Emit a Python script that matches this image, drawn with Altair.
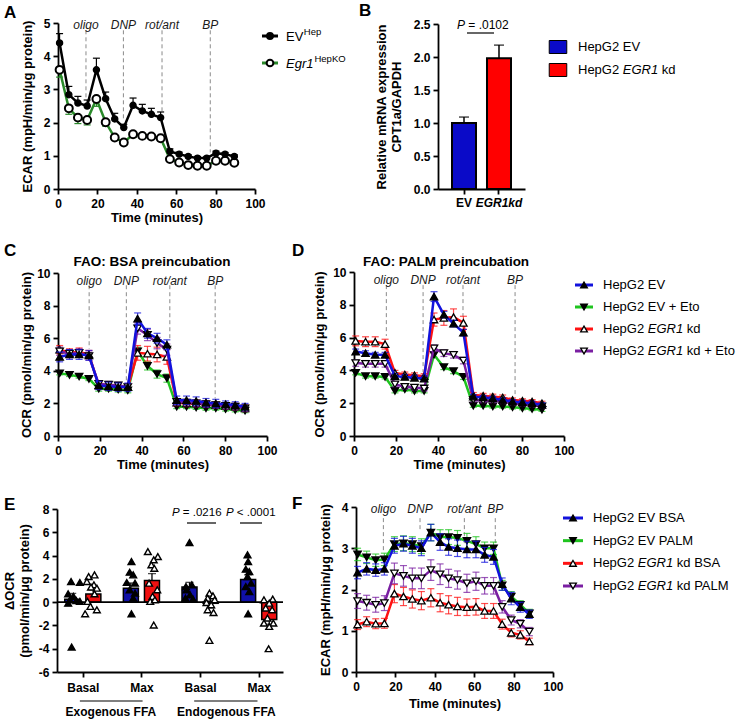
import altair as alt
import pandas as pd

FONT = "Liberation Sans"
W, H = 737, 719
BLACK = "#000000"

# ---------------- data ----------------
TIME = [0.8, 5.5, 10.1, 14.8, 19.5, 24.2, 28.8, 33.4, 38.1, 42.8,
        47.4, 52.1, 56.8, 61.5, 66.1, 70.8, 75.5, 80.2, 84.8, 89.5]
TIME_F = [0.8, 5.4, 10.0, 14.4, 19.5, 24.1, 28.6, 33.2, 38.0, 42.7,
          47.0, 51.5, 56.3, 60.9, 65.3, 69.8, 74.2, 78.8, 83.4, 88.0]
INJ_LABELS = ["oligo", "DNP", "rot/ant", "BP"]
TIME_TICKS = [0, 20, 40, 60, 80, 100]

# Panel A (ECAR, mice)
A_EV = [4.40, 2.84, 2.59, 2.50, 3.59, 2.72, 2.11, 1.85, 2.52, 2.35,
        2.25, 2.15, 1.13, 1.05, 0.98, 0.93, 0.93, 1.08, 1.05, 0.98]
A_EV_ERR = [0.28, 0.25, 0.20, 0.18, 0.35, 0.20, 0.17, 0.10, 0.22, 0.20,
            0.18, 0.17, 0.08, 0.06, 0.05, 0.05, 0.05, 0.06, 0.05, 0.05]
A_KO = [3.59, 2.43, 2.15, 2.08, 2.71, 2.01, 1.55, 1.40, 1.65, 1.60,
        1.58, 1.53, 0.90, 0.80, 0.72, 0.70, 0.70, 0.85, 0.85, 0.79]
A_KO_ERR = [0.22, 0.18, 0.18, 0.15, 0.22, 0.12, 0.08, 0.06, 0.10, 0.08,
            0.08, 0.08, 0.06, 0.05, 0.04, 0.04, 0.04, 0.05, 0.05, 0.05]
A_INJ_T = [14.2, 33.2, 52.8, 77.3]
A_INJ_END = [2.75, 2.05, 2.35, 1.10]

# Panel B (CPT1a expression)
B_GROUPS = ["EV", "EGR1kd"]
B_MEAN = [1.00, 1.98]
B_ERR = [0.09, 0.20]

# Panel C (OCR, BSA)
C_EV = [4.85, 5.00, 5.00, 4.95, 3.10, 3.05, 3.00, 3.00, 7.20, 6.30,
        6.00, 5.60, 2.20, 2.20, 2.15, 2.05, 2.00, 1.95, 1.90, 1.80]
C_EV_ERR = [0.30, 0.30, 0.30, 0.30, 0.25, 0.25, 0.25, 0.25, 0.35, 0.30,
            0.30, 0.30, 0.25, 0.25, 0.25, 0.25, 0.25, 0.20, 0.20, 0.20]
C_ETO = [3.85, 3.75, 3.65, 3.50, 2.90, 2.90, 2.85, 2.80, 5.20, 4.30,
         3.80, 3.55, 1.80, 1.80, 1.75, 1.70, 1.70, 1.65, 1.60, 1.55]
C_ETO_ERR = [0.10, 0.10, 0.10, 0.10, 0.15, 0.15, 0.15, 0.15, 0.25, 0.25,
             0.25, 0.25, 0.12, 0.12, 0.12, 0.12, 0.12, 0.12, 0.12, 0.12]
C_KD = [5.30, 5.10, 5.15, 5.00, 3.10, 3.05, 3.00, 3.00, 5.10, 5.05,
        5.00, 4.85, 2.05, 2.00, 2.00, 1.95, 1.90, 1.85, 1.80, 1.70]
C_KD_ERR = [0.25, 0.25, 0.25, 0.25, 0.20, 0.20, 0.20, 0.20, 0.45, 0.45,
            0.45, 0.45, 0.20, 0.20, 0.20, 0.20, 0.20, 0.20, 0.20, 0.20]
C_KDETO = [5.20, 5.05, 5.10, 4.90, 3.20, 3.15, 3.10, 3.00, 6.60, 6.20,
           5.70, 5.30, 2.10, 2.05, 2.00, 1.95, 1.90, 1.85, 1.80, 1.70]
C_KDETO_ERR = [0.25, 0.25, 0.25, 0.25, 0.20, 0.20, 0.20, 0.20, 0.35, 0.35,
               0.35, 0.35, 0.20, 0.20, 0.20, 0.20, 0.20, 0.20, 0.20, 0.20]
C_INJ_T = [14.9, 32.7, 53.5, 75.2]
C_INJ_END = [5.35, 3.40, 5.90, 2.30]

# Panel D (OCR, PALM)
D_EV = [5.15, 5.05, 4.95, 4.95, 3.65, 3.60, 3.55, 3.50, 8.50, 7.40,
        6.85, 6.30, 2.40, 2.35, 2.30, 2.20, 2.10, 2.05, 2.00, 1.90]
D_EV_ERR = [0.15, 0.15, 0.15, 0.15, 0.15, 0.15, 0.15, 0.15, 0.30, 0.20,
            0.20, 0.20, 0.12, 0.12, 0.12, 0.12, 0.12, 0.12, 0.12, 0.12]
D_ETO = [3.85, 3.65, 3.65, 3.60, 2.75, 2.85, 2.75, 2.75, 4.95, 4.20,
         3.95, 3.60, 1.85, 1.85, 1.80, 1.80, 1.75, 1.70, 1.65, 1.60]
D_ETO_ERR = [0.12, 0.12, 0.12, 0.12, 0.12, 0.12, 0.12, 0.12, 0.15, 0.15,
             0.15, 0.15, 0.10, 0.10, 0.10, 0.10, 0.10, 0.10, 0.10, 0.10]
D_KD = [5.80, 5.75, 5.75, 5.60, 3.85, 3.75, 3.70, 3.65, 7.10, 7.20,
        7.25, 6.90, 2.50, 2.45, 2.40, 2.35, 2.20, 2.15, 2.10, 2.00]
D_KD_ERR = [0.30, 0.30, 0.30, 0.30, 0.15, 0.15, 0.15, 0.15, 0.40, 0.45,
            0.50, 0.40, 0.15, 0.15, 0.15, 0.15, 0.12, 0.12, 0.12, 0.12]
D_KDETO = [4.45, 4.40, 4.40, 4.40, 3.15, 3.00, 2.95, 2.90, 5.35, 5.05,
           4.95, 4.60, 2.20, 2.15, 2.15, 2.10, 2.00, 1.95, 1.90, 1.80]
D_KDETO_ERR = [0.20, 0.20, 0.20, 0.20, 0.15, 0.15, 0.15, 0.15, 0.20, 0.20,
               0.20, 0.20, 0.12, 0.12, 0.12, 0.12, 0.12, 0.12, 0.12, 0.12]
D_INJ_T = [15.4, 32.9, 51.9, 76.7]
D_INJ_END = [6.10, 3.90, 7.30, 2.40]

# Panel E (delta OCR)
E_CATS = ["Basal", "Max", "Basal", "Max"]
E_GROUPS = ["Exogenous FFA", "Endogenous FFA"]
E_EV_MEAN = [0.25, 1.20, 1.30, 1.95]
E_EV_ERR = [0.50, 0.45, 0.40, 0.40]
E_KD_MEAN = [0.70, 1.85, -0.10, -1.50]
E_KD_ERR = [0.35, 0.60, 0.40, 0.40]
E_EV_Y = [
    [1.77, 1.69, 0.71, 0.49, 0.20, 0.14, -0.09, 0.06, -3.86],
    [3.49, 2.57, 2.34, 1.69, 1.63, 1.06, 0.77, 0.34, -1.00],
    [5.11, 1.34, 1.49, 1.06, 0.63, 0.34, 0.26],
    [4.06, 3.49, 2.83, 2.63, 2.20, 1.63, 1.34, 0.91, -1.00],
]
E_EV_DX = [
    [-0.02, 0.13, -0.07, 0.02, -0.04, 0.07, -0.07, 0.13, -0.01],
    [0.01, -0.02, 0.04, -0.07, 0.07, -0.02, 0.07, 0.04, 0.01],
    [0.00, -0.06, 0.04, -0.05, 0.01, -0.07, 0.06],
    [-0.01, 0.00, -0.04, 0.02, -0.01, 0.05, -0.04, 0.02, 0.00],
]
E_KD_Y = [
    [2.20, 2.34, 1.77, 1.49, 1.29, 1.20, 0.71, 0.06, -0.37, -1.00, -0.66],
    [4.34, 3.91, 3.63, 3.20, 2.91, 1.63, 1.06, 0.49, 0.06, 0.20, -1.97],
    [0.77, 0.54, 0.34, 0.20, -0.03, -0.23, -0.66, -0.89, -3.29],
    [0.20, 0.26, -0.09, -0.51, -0.66, -1.37, -1.80, -2.09, -1.80, -4.00],
]
E_KD_DX = [
    [-0.08, 0.02, -0.11, 0.01, -0.04, 0.06, 0.02, -0.10, -0.05, -0.14, 0.06],
    [-0.07, 0.10, 0.03, -0.01, 0.04, -0.05, 0.09, 0.01, -0.03, 0.05, 0.03],
    [-0.02, 0.04, -0.05, 0.07, -0.07, 0.01, -0.05, 0.05, -0.02],
    [-0.09, 0.06, 0.00, -0.06, 0.05, -0.03, 0.07, 0.00, -0.09, -0.01],
]

# Panel F (ECAR, HepG2)
F_EV_BSA = [2.41, 2.50, 2.47, 2.50, 3.06, 3.11, 3.06, 3.00, 3.38, 3.15,
            3.03, 3.00, 2.97, 2.97, 2.84, 2.79, 2.13, 1.78, 1.57, 1.40]
F_EV_BSA_ERR = [0.15, 0.15, 0.15, 0.15, 0.18, 0.18, 0.18, 0.18, 0.20, 0.20,
                0.20, 0.20, 0.20, 0.20, 0.18, 0.18, 0.15, 0.15, 0.12, 0.10]
F_EV_PALM = [2.85, 2.78, 2.71, 2.73, 3.10, 3.12, 3.10, 3.05, 3.38, 3.27,
             3.27, 3.25, 3.18, 3.10, 3.00, 3.00, 2.10, 1.83, 1.63, 1.42]
F_EV_PALM_ERR = [0.15, 0.15, 0.15, 0.15, 0.18, 0.18, 0.18, 0.18, 0.20, 0.18,
                 0.18, 0.18, 0.18, 0.18, 0.15, 0.15, 0.12, 0.12, 0.10, 0.10]
F_KD_BSA = [1.15, 1.22, 1.17, 1.18, 1.90, 1.83, 1.77, 1.73, 1.80, 1.68,
            1.63, 1.59, 1.57, 1.58, 1.48, 1.48, 1.16, 0.95, 0.90, 0.74]
F_KD_BSA_ERR = [0.12, 0.12, 0.12, 0.12, 0.22, 0.22, 0.22, 0.22, 0.22, 0.22,
                0.22, 0.22, 0.20, 0.20, 0.18, 0.18, 0.12, 0.10, 0.10, 0.08]
F_KD_PALM = [1.72, 1.68, 1.63, 1.67, 2.39, 2.33, 2.27, 2.27, 2.47, 2.37,
             2.27, 2.23, 2.15, 2.20, 2.09, 2.09, 1.58, 1.26, 1.17, 0.98]
F_KD_PALM_ERR = [0.18, 0.18, 0.18, 0.18, 0.25, 0.25, 0.25, 0.25, 0.25, 0.25,
                 0.22, 0.22, 0.22, 0.22, 0.20, 0.20, 0.15, 0.12, 0.10, 0.10]
F_INJ_T = [13.9, 32.5, 55.0, 70.7]
F_INJ_END = [2.90, 3.45, 3.10, 3.10]

# legend texts
CD_KEYS = ["ev", "eto", "kd", "kdeto"]
CD_PRE = ["HepG2 EV", "HepG2 EV + Eto", "HepG2", "HepG2"]
CD_ITAL = ["", "", "EGR1", "EGR1"]
CD_POST = ["", "", "kd", "kd + Eto"]
F_KEYS = ["evbsa", "evpalm", "kdbsa", "kdpalm"]
F_PRE = ["HepG2 EV BSA", "HepG2 EV PALM", "HepG2", "HepG2"]
F_ITAL = ["", "", "EGR1", "EGR1"]
F_POST = ["", "", "kd BSA", "kd PALM"]
B_KEYS = ["ev", "kd"]
B_PRE = ["HepG2 EV", "HepG2"]
B_ITAL = ["", "EGR1"]
B_POST = ["", "kd"]

# ---------------- styles ----------------
BLUE = "#1212dc"
GREEN = "#1fc41f"
RED = "#ff1212"
PURPLE = "#7a1fa2"
A_GREEN = "#2a8a2a"
B_BLUE = "#0a0ac8"
B_RED = "#ff0000"
E_BLUE = "#1010a8"
E_RED = "#f01010"
TRI = 55

CHAR_W = {"H": .722, "e": .556, "p": .556, "G": .778, "2": .556, " ": .278,
          "E": .667, "V": .667, "R": .722, "1": .556, "k": .5, "d": .556,
          "g": .556, "r": .333, "P": .667, "=": .584, "<": .584, ".": .278,
          "0": .556}


def tw(s, size):
    return sum(CHAR_W.get(ch, 0.556) for ch in s) * size


def sc(domain, rng):
    return alt.Scale(domain=domain, range=rng, nice=False, zero=False)


AX = dict(grid=False, domainColor=BLACK, domainWidth=1.8, tickColor=BLACK,
          tickWidth=1.8, tickSize=5, labelFont=FONT, labelFontSize=12,
          labelFontWeight="bold", labelColor=BLACK, titleFont=FONT,
          titleFontSize=13, titleFontWeight="bold", titleColor=BLACK,
          labelFlush=False, labelOverlap=False)


def y_axis(title, values, at_x, title_pad, label_pad=3, **kw):
    d = dict(AX, title=title, orient="left", offset=-at_x, values=values,
             labelPadding=label_pad, titlePadding=title_pad)
    d.update(kw)
    return alt.Axis(**d)


def x_axis(title, values, at_y, title_pad, label_pad=4, **kw):
    d = dict(AX, title=title, orient="bottom", offset=at_y - H, values=values,
             labelPadding=label_pad, titlePadding=title_pad, labelAngle=0)
    d.update(kw)
    return alt.Axis(**d)


# (scale, axis) per panel; every layer of a panel carries the same axis
PA_X = (sc([0, 100], [58, 255]), x_axis("Time (minutes)", TIME_TICKS, 189, 2))
PA_Y = (sc([0, 5], [189, 23]), y_axis("ECAR (mpH/min/μg protein)", [0, 1, 2, 3, 4, 5], 58, 9))
PB_X = (alt.Scale(type="band", domain=B_GROUPS, range=[438, 525],
                  paddingInner=0.314, paddingOuter=0.4),
        x_axis(None, B_GROUPS, 189, 0, label_pad=3,
               labelFontStyle={"condition": {"test": "datum.value == 'EGR1kd'",
                                             "value": "italic"}, "value": "normal"}))
PB_Y = (sc([0, 2.5], [189, 24]),
        y_axis(["Relative mRNA expression", "CPT1a/GAPDH"], [0, 0.5, 1.0, 1.5, 2.0, 2.5],
               438, 10, format=".1f"))
PC_X = (sc([0, 100], [58, 267]), x_axis("Time (minutes)", TIME_TICKS, 436, 2))
PC_Y = (sc([0, 10], [436, 273]), y_axis("OCR (pmol/min/μg protein)", [0, 2, 4, 6, 8, 10], 58, 3))
PD_X = (sc([0, 100], [354, 564]), x_axis("Time (minutes)", TIME_TICKS, 436, 2))
PD_Y = (sc([0, 10], [436, 272]), y_axis("OCR (pmol/min/μg protein)", [0, 2, 4, 6, 8, 10], 354, 6))
E_XDOM = [0.06, 3.915]
E_POS = [0.5, 1.5, 2.5, 3.5]
E_SHIFT = 0.18
E_HALF = 0.128
PE_X = (sc(E_XDOM, [57, 283]),
        x_axis(None, E_POS, 672, 0, label_pad=5, labelExpr=f"{E_CATS}[floor(datum.value)]"))
PE_Y = (sc([-6, 8], [672, 509]),
        y_axis(["ΔOCR", "(pmol/min/μg protein)"], [-6, -4, -2, 0, 2, 4, 6, 8], 57, 7,
               labelExpr="toString(datum.value)"))
PF_X = (sc([0, 100], [356, 553]), x_axis("Time (minutes)", TIME_TICKS, 672, 5))
PF_Y = (sc([0, 4], [672, 507]), y_axis("ECAR (mpH/min/μg protein)", [0, 1, 2, 3, 4], 356, 9))


def XE(field, P):
    return alt.X(field, scale=P[0], axis=P[1])


def YE(field, P):
    return alt.Y(field, scale=P[0], axis=P[1])


def series(t, v, e, PX, PY, line_color, err_color, shape, fill, size, errdir,
           mstroke=1.3, lw=2.5, err_op=0.75):
    df = pd.DataFrame({"t": t, "v": v, "e": e})
    base = alt.Chart(df).transform_calculate(lo="datum.v - datum.e",
                                             hi="datum.v + datum.e")
    X = XE("t:Q", PX)
    if errdir == "both":
        a, b, caps = "lo", "hi", ["lo", "hi"]
    elif errdir == "up":
        a, b, caps = "v", "hi", ["hi"]
    else:
        a, b, caps = "lo", "v", ["lo"]
    out = [base.mark_rule(color=err_color, strokeWidth=1.2, opacity=err_op)
           .encode(x=X, y=YE(a + ":Q", PY), y2=alt.Y2(b))]
    for c in caps:
        out.append(base.mark_tick(orient="horizontal", color=err_color, size=7,
                                  thickness=1.2, opacity=err_op)
                   .encode(x=X, y=YE(c + ":Q", PY)))
    out.append(base.mark_line(color=line_color, strokeWidth=lw).encode(x=X, y=YE("v:Q", PY)))
    out.append(base.mark_point(shape=shape, filled=True, fill=fill, stroke=BLACK,
                               strokeWidth=mstroke, size=size, opacity=1)
               .encode(x=X, y=YE("v:Q", PY)))
    return out


def injections(t, ends, top, label_y, PX, PY):
    df = pd.DataFrame({"t": t, "end": ends, "top": [top] * len(t),
                       "lab": INJ_LABELS, "ly": [label_y] * len(t)})
    X = XE("t:Q", PX)
    rules = alt.Chart(df).mark_rule(color="#8a8a8a", strokeWidth=1,
                                    strokeDash=[4, 3]).encode(
        x=X, y=YE("top:Q", PY), y2=alt.Y2("end"))
    texts = alt.Chart(df).mark_text(font=FONT, fontSize=12, fontStyle="italic",
                                    color="#1a1a1a", baseline="middle").encode(
        x=X, y=YE("ly:Q", PY), text="lab:N")
    return [rules, texts]


ONE = pd.DataFrame({"k": [0]})


def label(text, x, y, size=13, weight="normal", style="normal", align="left",
          baseline="middle", dy=0):
    kw = dict(text=text, font=FONT, fontSize=size, fontWeight=weight,
              fontStyle=style, align=align, baseline=baseline, color=BLACK)
    if dy:
        kw["dy"] = dy
    return alt.Chart(ONE).mark_text(**kw).encode(x=alt.value(x), y=alt.value(y))


def hline(x0, x1, y, color=BLACK, width=1.2):
    return alt.Chart(ONE).mark_rule(color=color, strokeWidth=width).encode(
        x=alt.value(x0), x2=alt.value(x1), y=alt.value(y))


def legend(keys, pre, ital, post, colors, shapes, fills, y_lo, y_hi,
           seg_x0, seg_x1, text_x, fs=13, boxes=False):
    df = pd.DataFrame({"k": keys, "pre": pre, "ital": ital, "post": post})
    Y = alt.Y("k:N", scale=alt.Scale(type="point", domain=keys,
                                     range=[y_lo, y_hi], padding=0), axis=None)
    mid = (seg_x0 + seg_x1) / 2
    layers = []
    if boxes:
        layers.append(alt.Chart(df).mark_point(
            shape="M-1.35,-1H1.35V1H-1.35Z", filled=True, size=169, opacity=1,
            stroke=BLACK, strokeWidth=1).encode(x=alt.value(mid), y=Y, fill=alt.Fill(
                "k:N", scale=alt.Scale(domain=keys, range=colors), legend=None)))
    else:
        layers.append(alt.Chart(df).mark_rule(strokeWidth=3).encode(
            x=alt.value(seg_x0), x2=alt.value(seg_x1), y=Y,
            color=alt.Color("k:N", scale=alt.Scale(domain=keys, range=colors), legend=None)))
        layers.append(alt.Chart(df).mark_point(
            filled=True, stroke=BLACK, strokeWidth=1.3, size=45, opacity=1).encode(
            x=alt.value(mid), y=Y,
            shape=alt.Shape("k:N", scale=alt.Scale(domain=keys, range=shapes), legend=None),
            fill=alt.Fill("k:N", scale=alt.Scale(domain=keys, range=fills), legend=None)))
    x_it = text_x + tw("HepG2 ", fs)
    x_post = x_it + tw("EGR1 ", fs)
    for field, x, style in (("pre", text_x, "normal"), ("ital", x_it, "italic"),
                            ("post", x_post, "normal")):
        layers.append(alt.Chart(df).mark_text(
            align="left", baseline="middle", font=FONT, fontSize=fs,
            fontStyle=style, color=BLACK).encode(x=alt.value(x), y=Y, text=f"{field}:N"))
    return alt.layer(*layers)


# ---------------- panel A ----------------
panelA = alt.layer(
    *injections(A_INJ_T, A_INJ_END, 4.78, 4.93, PA_X, PA_Y),
    *series(TIME, A_KO, A_KO_ERR, PA_X, PA_Y, A_GREEN, A_GREEN, "circle", "white",
            62, "down", mstroke=2.0, err_op=1.0),
    *series(TIME, A_EV, A_EV_ERR, PA_X, PA_Y, BLACK, BLACK, "circle", BLACK,
            38, "up", err_op=1.0),
)
legendA = alt.layer(
    hline(262, 278, 36, BLACK, 3),
    alt.Chart(ONE).mark_point(shape="circle", filled=True, fill=BLACK, stroke=BLACK,
                              size=35, opacity=1).encode(x=alt.value(270), y=alt.value(36)),
    label("EV", 286, 37, 13),
    label("Hep", 286 + tw("EV", 13) + 0.5, 37, 9.5, dy=-5),
    hline(262, 278, 63, A_GREEN, 3),
    alt.Chart(ONE).mark_point(shape="circle", filled=True, fill="white", stroke=BLACK,
                              strokeWidth=2, size=45, opacity=1).encode(
        x=alt.value(270), y=alt.value(63)),
    label("Egr1", 286, 64, 13, style="italic"),
    label("HepKO", 286 + tw("Egr1", 13) + 1, 64, 9.5, dy=-5),
)

# ---------------- panel B ----------------
dfB = pd.DataFrame({"g": B_GROUPS, "m": B_MEAN, "e": B_ERR})
baseB = alt.Chart(dfB).transform_calculate(hi="datum.m + datum.e", z="0")
BXc = XE("g:N", PB_X)
panelB = alt.layer(
    baseB.mark_rule(color=BLACK, strokeWidth=1.5).encode(
        x=BXc, y=YE("m:Q", PB_Y), y2=alt.Y2("hi")),
    baseB.mark_tick(orient="horizontal", color=BLACK, size=10, thickness=1.5).encode(
        x=BXc, y=YE("hi:Q", PB_Y)),
    baseB.mark_bar(stroke=BLACK, strokeWidth=2).encode(
        x=BXc, y=YE("m:Q", PB_Y), y2=alt.Y2("z"),
        color=alt.Color("g:N", scale=alt.Scale(domain=B_GROUPS, range=[B_BLUE, B_RED]),
                        legend=None)),
)
annB = alt.layer(
    label("P", 457, 25, 12, style="italic"),
    label("= .0102", 457 + tw("P ", 12), 25, 12),
    hline(467, 494, 33, BLACK, 1.2),
)
legendB = legend(B_KEYS, B_PRE, B_ITAL, B_POST, [B_BLUE, B_RED],
                 ["square", "square"], [B_BLUE, B_RED], 47, 70, 550, 566, 578,
                 boxes=True)

# ---------------- panel C ----------------
panelC = alt.layer(
    *injections(C_INJ_T, C_INJ_END, 9.25, 9.5, PC_X, PC_Y),
    *series(TIME, C_ETO, C_ETO_ERR, PC_X, PC_Y, GREEN, GREEN, "triangle-down", BLACK, TRI, "both"),
    *series(TIME, C_KD, C_KD_ERR, PC_X, PC_Y, RED, RED, "triangle-up", "white", TRI, "both"),
    *series(TIME, C_KDETO, C_KDETO_ERR, PC_X, PC_Y, PURPLE, PURPLE, "triangle-down", "white", TRI, "both"),
    *series(TIME, C_EV, C_EV_ERR, PC_X, PC_Y, BLUE, BLUE, "triangle-up", BLACK, TRI, "both"),
)

# ---------------- panel D ----------------
panelD = alt.layer(
    *injections(D_INJ_T, D_INJ_END, 9.2, 9.5, PD_X, PD_Y),
    *series(TIME, D_ETO, D_ETO_ERR, PD_X, PD_Y, GREEN, GREEN, "triangle-down", BLACK, TRI, "both"),
    *series(TIME, D_KDETO, D_KDETO_ERR, PD_X, PD_Y, PURPLE, PURPLE, "triangle-down", "white", TRI, "both"),
    *series(TIME, D_KD, D_KD_ERR, PD_X, PD_Y, RED, RED, "triangle-up", "white", TRI, "both"),
    *series(TIME, D_EV, D_EV_ERR, PD_X, PD_Y, BLUE, BLUE, "triangle-up", BLACK, TRI, "both"),
)
legendCD = legend(CD_KEYS, CD_PRE, CD_ITAL, CD_POST, [BLUE, GREEN, RED, PURPLE],
                  ["triangle-up", "triangle-down", "triangle-up", "triangle-down"],
                  [BLACK, BLACK, "white", "white"], 285, 351, 575, 593, 603)

# ---------------- panel E ----------------


def e_bars(means, errs, shift, color):
    df = pd.DataFrame({"c": E_POS, "m": means, "e": errs})
    base = alt.Chart(df).transform_calculate(
        xc=f"datum.c + ({shift})",
        xl=f"datum.c + ({shift}) - {E_HALF}",
        xr=f"datum.c + ({shift}) + {E_HALF}",
        tip="datum.m >= 0 ? datum.m + datum.e : datum.m - datum.e",
        z="0")
    X = XE("xc:Q", PE_X)
    return [
        base.mark_rule(color=BLACK, strokeWidth=1.3).encode(
            x=X, y=YE("m:Q", PE_Y), y2=alt.Y2("tip")),
        base.mark_tick(orient="horizontal", color=BLACK, size=8, thickness=1.3).encode(
            x=X, y=YE("tip:Q", PE_Y)),
        base.mark_bar(color=color, stroke=BLACK, strokeWidth=1.5).encode(
            x=XE("xl:Q", PE_X), x2=alt.X2("xr"),
            y=YE("m:Q", PE_Y), y2=alt.Y2("z")),
    ]


def e_points(ys, dxs, shift, fill):
    rows = []
    for c, yl, dl in zip(E_POS, ys, dxs):
        for y, dx in zip(yl, dl):
            rows.append({"c": c, "dx": dx, "y": y})
    df = pd.DataFrame(rows)
    return alt.Chart(df).transform_calculate(
        px=f"datum.c + ({shift}) + datum.dx").mark_point(
        shape="triangle-up", filled=True, fill=fill, stroke=BLACK, strokeWidth=1.4,
        size=46, opacity=1).encode(x=XE("px:Q", PE_X), y=YE("y:Q", PE_Y))


dfZero = pd.DataFrame({"x0": [E_XDOM[0]], "x1": [E_XDOM[1]], "y": [0]})
dfGroups = pd.DataFrame({"x": [0.98, 2.95], "t": E_GROUPS,
                         "x0": [0.45, 2.40], "x1": [1.52, 3.48]})
panelE = alt.layer(
    *e_bars(E_EV_MEAN, E_EV_ERR, -E_SHIFT, E_BLUE),
    *e_bars(E_KD_MEAN, E_KD_ERR, E_SHIFT, E_RED),
    alt.Chart(dfZero).mark_rule(color=BLACK, strokeWidth=1.6).encode(
        x=XE("x0:Q", PE_X), x2=alt.X2("x1"), y=YE("y:Q", PE_Y)),
    e_points(E_EV_Y, E_EV_DX, -E_SHIFT, BLACK),
    e_points(E_KD_Y, E_KD_DX, E_SHIFT, "white"),
    alt.Chart(dfGroups).mark_rule(color=BLACK, strokeWidth=1.2).encode(
        x=XE("x0:Q", PE_X), x2=alt.X2("x1"), y=alt.value(701)),
    alt.Chart(dfGroups).mark_text(font=FONT, fontSize=12, fontWeight="bold",
                                  baseline="middle", color=BLACK).encode(
        x=XE("x:Q", PE_X), y=alt.value(712), text="t:N"),
)
annE = alt.layer(
    label("P", 172, 513, 11.5, style="italic"),
    label("= .0216", 172 + tw("P ", 11.5), 513, 11.5),
    hline(187, 216, 523, BLACK, 1.2),
    label("P", 226, 513, 11.5, style="italic"),
    label("< .0001", 226 + tw("P ", 11.5), 513, 11.5),
    hline(240, 262, 523, BLACK, 1.2),
)

# ---------------- panel F ----------------
panelF = alt.layer(
    *injections(F_INJ_T, F_INJ_END, 3.73, 3.95, PF_X, PF_Y),
    *series(TIME_F, F_KD_BSA, F_KD_BSA_ERR, PF_X, PF_Y, RED, RED, "triangle-up", "white", TRI, "both"),
    *series(TIME_F, F_KD_PALM, F_KD_PALM_ERR, PF_X, PF_Y, PURPLE, PURPLE, "triangle-down", "white", TRI, "both"),
    *series(TIME_F, F_EV_PALM, F_EV_PALM_ERR, PF_X, PF_Y, GREEN, GREEN, "triangle-down", BLACK, TRI, "both"),
    *series(TIME_F, F_EV_BSA, F_EV_BSA_ERR, PF_X, PF_Y, BLUE, BLUE, "triangle-up", BLACK, TRI, "both"),
)
legendF = legend(F_KEYS, F_PRE, F_ITAL, F_POST, [BLUE, GREEN, RED, PURPLE],
                 ["triangle-up", "triangle-down", "triangle-up", "triangle-down"],
                 [BLACK, BLACK, "white", "white"], 518, 586, 563, 583, 593)

# ---------------- titles / letters ----------------
texts = alt.layer(
    label("A", 4, 18, 17, weight="bold", baseline="alphabetic"),
    label("B", 359, 16, 17, weight="bold", baseline="alphabetic"),
    label("C", 4, 256, 17, weight="bold", baseline="alphabetic"),
    label("D", 292, 256, 17, weight="bold", baseline="alphabetic"),
    label("E", 4, 510, 17, weight="bold", baseline="alphabetic"),
    label("F", 292, 509, 17, weight="bold", baseline="alphabetic"),
    label("FAO: BSA preincubation", 152, 262, 13.5, weight="bold", align="center"),
    label("FAO: PALM preincubation", 446, 262, 13.5, weight="bold", align="center"),
)

chart = alt.layer(
    panelA, legendA, panelB, annB, legendB, panelC, panelD, legendCD,
    panelE, annE, panelF, legendF, texts,
).resolve_scale(
    x="independent", y="independent", color="independent",
    fill="independent", shape="independent",
).properties(
    width=W, height=H, padding=0, background="white",
    autosize=alt.AutoSizeParams(type="none"),
).configure_view(strokeWidth=0)

chart.save("out.html", embed_options={"renderer": "svg", "actions": False})
